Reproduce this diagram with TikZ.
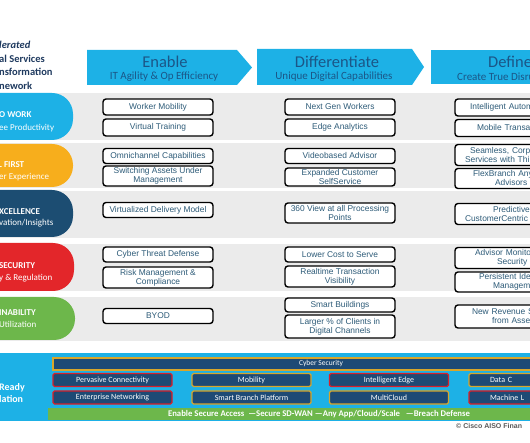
\documentclass[tikz,border=0pt]{standalone}
\usepackage{fontspec}
\setmainfont{Carlito}
\newfontfamily\arialfont{Liberation Sans}
\usetikzlibrary{positioning}
\definecolor{colorcyan}{HTML}{1DB1E6}
\definecolor{colorhead}{HTML}{1B5687}
\definecolor{colornavy}{HTML}{1F3A5F}
\definecolor{colororange}{HTML}{F7AE1C}
\definecolor{colordeep}{HTML}{1C4D72}
\definecolor{colorred}{HTML}{E3262A}
\definecolor{colorgreen}{HTML}{6DB74B}
\definecolor{colorband}{HTML}{EBEBEB}
\definecolor{colorboxtext}{HTML}{2D5B78}
\definecolor{colorbase}{HTML}{1E4A75}
\definecolor{colorgold}{HTML}{D8A62B}
\definecolor{colorbasered}{HTML}{D8202A}

\begin{document}
\begin{tikzpicture}[
    x=1pt, y=-1pt,
    % White cells with dark outline
    cell/.style={
        rectangle,
        draw=black,
        fill=white,
        rounded corners=3pt,
        line width=1.4pt,
        align=center,
        inner sep=1pt,
        minimum width=110pt,
        minimum height=15pt,
        text=colorboxtext,
        font=\arialfont\fontsize{8.4}{9}\selectfont
    },
    tallcell/.style={cell, minimum height=21pt},
    % Cells cut by the right border
    edgecell/.style={cell, align=left, text width=108pt},
    pilltext/.style={anchor=west, inner sep=0pt, text=white, font=\fontsize{9}{10}\selectfont},
    sidetext/.style={anchor=west, inner sep=0pt, text=colornavy, font=\bfseries\fontsize{10.5}{11}\selectfont},
    headtitle/.style={inner sep=0pt, text=colorhead, font=\fontsize{16.5}{18}\selectfont},
    headsub/.style={inner sep=0pt, text=colorhead, font=\fontsize{11}{12}\selectfont},
    basebar/.style={
        rectangle,
        inner sep=0pt,
        minimum height=12pt,
        text=white,
        font=\fontsize{7.5}{8}\selectfont
    },
    basebox/.style={
        rectangle,
        fill=colorbase,
        draw=colorgold,
        line width=1.4pt,
        rounded corners=1.5pt,
        inner sep=0pt,
        minimum width=119pt,
        minimum height=13pt,
        text=white,
        font=\fontsize{8}{9}\selectfont
    },
    redbox/.style={basebox, draw=colorbasered}
]
\useasboundingbox (0,0) rectangle (530,443);
\clip (0,0) rectangle (530,443);

% ==============================
% Title block and headers
% ==============================
\node[sidetext] (titleA) at (-1,45) {\itshape lerated};
\node[sidetext] (titleB) at (-1,59) {al Services};
\node[sidetext] (titleC) at (-1,72) {nsformation};
\node[sidetext] (titleD) at (-1,86) {nework};

\fill[colorcyan] (87,50) -- (237,50) -- (252,67.5) -- (237,85) -- (87,85) -- cycle;
\fill[colorcyan] (257,49) -- (412,49) -- (424,67) -- (412,85) -- (257,85) -- cycle;
\fill[colorcyan] (431,50) rectangle (540,84);

\node[headtitle] (enable) at (165,62) {Enable};
\node[headsub] (enablesub) at (164,77) {IT Agility \& Op Efficiency};
\node[headtitle] (differ) at (337,62) {Differentiate};
\node[headsub] (differsub) at (334,77) {Unique Digital Capabilities};
\node[headtitle, anchor=west] (define) at (488,62) {Define};
\node[headsub, anchor=west] (definesub) at (457,77) {Create True Disru};

% ==============================
% Row bands and pills
% ==============================
\fill[colorband] (0,93) rectangle (530,140);
\fill[colorband] (0,143) rectangle (530,188);
\fill[colorband] (0,191) rectangle (530,238);
\fill[colorband] (0,244) rectangle (530,291);
\fill[colorband] (0,297) rectangle (530,341);

\fill[colorcyan, rounded corners=21pt] (-40,93) rectangle (73,140);
\fill[colororange, rounded corners=21pt] (-40,144) rectangle (73,187);
\fill[colordeep, rounded corners=21pt] (-40,190) rectangle (73,237);
\fill[colorred, rounded corners=21pt] (-40,243) rectangle (74,291);
\fill[colorgreen, rounded corners=21pt] (-40,297) rectangle (75,340);

\node[pilltext] (workA) at (-1,115) {\textbf{O WORK}};
\node[pilltext] (workB) at (-1,128) {ee Productivity};
\node[pilltext] (firstA) at (-2,165) {\textbf{L FIRST}};
\node[pilltext] (firstB) at (-1,177) {er Experience};
\node[pilltext] (excelA) at (-1,212) {\textbf{XCELLENCE}};
\node[pilltext] (excelB) at (-1,223) {vation/Insights};
\node[pilltext] (secA) at (-1,266) {\textbf{SECURITY}};
\node[pilltext] (secB) at (-1,278) {y \& Regulation};
\node[pilltext] (sustA) at (-1,313) {\textbf{INABILITY}};
\node[pilltext] (sustB) at (-1,324) {Utilization};

% ==============================
% Enable column
% ==============================
\node[cell, minimum height=16pt] (mobility) at (158,107) {Worker Mobility};
\node[cell, minimum height=17pt] (training) at (158,127.5) {Virtual Training};
\node[cell] (omni) at (158,156) {Omnichannel Capabilities};
\node[tallcell, minimum height=20pt] (switching) at (158,176) {Switching Assets Under\\Management};
\node[cell] (virtual) at (158,210) {Virtualized Delivery Model};
\node[cell] (threat) at (158,254.5) {Cyber Threat Defense};
\node[tallcell] (risk) at (158,277.5) {Risk Management \&\\Compliance};
\node[cell] (byod) at (158,316) {BYOD};

% ==============================
% Differentiate column
% ==============================
\node[cell, minimum height=16pt] (nextgen) at (340,107) {Next Gen Workers};
\node[cell, minimum height=17pt] (analytics) at (340,127.5) {Edge Analytics};
\node[cell] (video) at (340,156) {Videobased Advisor};
\node[tallcell, minimum height=18pt] (selfservice) at (340,177) {Expanded Customer\\SelfService};
\node[tallcell, minimum height=20pt] (view) at (340,213) {360 View at all Processing\\Points};
\node[cell] (lowercost) at (340,254.5) {Lower Cost to Serve};
\node[tallcell] (realtime) at (340,276.5) {Realtime Transaction\\Visibility};
\node[cell, minimum height=14pt] (buildings) at (340,305) {Smart Buildings};
\node[tallcell, minimum height=23pt] (larger) at (340,326.5) {Larger \% of Clients in\\Digital Channels};

% ==============================
% Define column (cut at the right)
% ==============================
\node[edgecell, minimum height=17pt] (automation) at (510,107.5) {\hspace*{14pt}Intelligent Autom};
\node[edgecell, minimum height=17pt] (mobile) at (510,128) {\hspace*{21pt}Mobile Transa};
\node[edgecell, minimum height=21pt] (seamless) at (510,155) {\hspace*{14pt}Seamless, Corp\\\hspace*{9pt}Services with Thi};
\node[edgecell, minimum height=20pt] (flexbranch) at (510,178.5) {\hspace*{17pt}FlexBranch Any\\\hspace*{39pt}Advisors};
\node[edgecell, minimum height=21pt] (predictive) at (510,214) {\hspace*{37pt}Predictive\\\hspace*{9pt}CustomerCentric};
\node[edgecell, minimum height=21pt] (monitor) at (510,258) {\hspace*{19pt}Advisor Monito\\\hspace*{41pt}Security};
\node[edgecell, minimum height=20pt] (persistent) at (510,282) {\hspace*{23pt}Persistent Ide\\\hspace*{37pt}Manageme};
\node[edgecell, minimum height=23pt] (revenue) at (510,316.5) {\hspace*{16pt}New Revenue S\\\hspace*{36pt}from Asset};

% ==============================
% Foundation band
% ==============================
\fill[colorcyan] (0,353) rectangle (530,421);
\node[pilltext, font=\bfseries\fontsize{10}{11}\selectfont] (readyA) at (-1,388) {Ready};
\node[pilltext, font=\bfseries\fontsize{10}{11}\selectfont] (readyB) at (-1,399) {lation};

\node[basebar, fill=colorbase, draw=colorgold, line width=1.2pt, minimum width=536pt] (cyber) at (321,364) {Cyber Security};

\node[redbox] (pervasive) at (112.5,380) {Pervasive Connectivity};
\node[basebox] (mobilitybase) at (251.5,380) {Mobility};
\node[redbox] (intedge) at (389,380) {Intelligent Edge};
\node[basebox, text width=119pt, align=left] (datacenter) at (528.5,380) {\hspace*{21pt}Data C};
\node[redbox] (networking) at (112.5,397.5) {Enterprise Networking};
\node[basebox] (branch) at (251.5,397.5) {Smart Branch Platform};
\node[basebox] (multicloud) at (389,397.5) {MultiCloud};
\node[redbox, text width=119pt, align=left] (machine) at (528.5,397.5) {\hspace*{21pt}Machine L};

\node[basebar, fill=colorgreen, minimum width=542pt, font=\bfseries\fontsize{8.7}{9}\selectfont] (access) at (319,414)
    {Enable Secure Access \ —Secure SD-WAN —Any App/Cloud/Scale \ \ —Breach Defense};

\node[anchor=west, inner sep=0pt, text=black!65, font=\arialfont\bfseries\fontsize{7}{8}\selectfont] (credit) at (456,426) {© Cisco AISO Finan};

\end{tikzpicture}
\end{document}
